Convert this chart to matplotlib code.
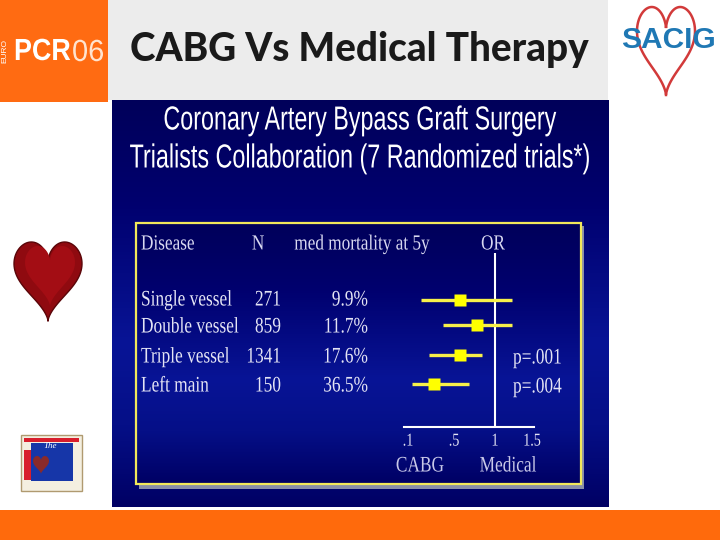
import numpy as np
import matplotlib
matplotlib.use("Agg")
import matplotlib.pyplot as plt
from matplotlib.patches import Rectangle, Polygon
from matplotlib.patheffects import AbstractPathEffect
from matplotlib.text import Text
from matplotlib.transforms import Affine2D, Bbox

diseases = ["Single vessel", "Double vessel", "Triple vessel", "Left main"]
n_patients = ["271", "859", "1341", "150"]
mortality = ["9.9%", "11.7%", "17.6%", "36.5%"]
odds_ratio = [0.57, 0.78, 0.57, 0.33]
ci_low = [0.21, 0.40, 0.28, 0.135]
ci_high = [1.23, 1.23, 0.84, 0.68]
p_values = ["", "", "p=.001", "p=.004"]
tick_values = [0.1, 0.5, 1, 1.5]
tick_labels = [".1", ".5", "1", "1.5"]

SANS = "Liberation Sans"
SERIF = "Liberation Serif"
PALE = "#e4e4f4"


class Condense(AbstractPathEffect):
    """Squeeze text horizontally about a display x, as the reference type is condensed."""
    def __init__(self, sx, cx):
        super().__init__()
        self.sx, self.cx = sx, cx

    def draw_path(self, renderer, gc, tpath, affine, rgbFace=None):
        squeeze = Affine2D().translate(-self.cx, 0).scale(self.sx, 1).translate(self.cx, 0)
        renderer.draw_path(gc, tpath, affine + squeeze, rgbFace)


def condense(text, sx, cx):
    """Apply the squeeze and report the extent that is really drawn."""
    text.set_path_effects([Condense(sx, cx)])

    def extent(renderer=None, dpi=None):
        b = Text.get_window_extent(text, renderer, dpi)
        return Bbox.from_extents(cx + (b.x0 - cx) * sx, b.y0, cx + (b.x1 - cx) * sx, b.y1)

    text.get_window_extent = extent
    return text


fig = plt.figure(figsize=(7.2, 5.4), dpi=100, facecolor="white")
bg = fig.add_axes([0, 0, 1, 1])


def put(x, y, s, sx=0.78, **kw):
    # figure is 720 px wide, so data x is display x
    return condense(bg.text(x, y, s, **kw), sx, x)


def reset_view():
    bg.set_xlim(0, 720); bg.set_ylim(540, 0)


reset_view(); bg.axis("off")

# page furniture
bg.add_patch(Rectangle((0, 0), 108, 102, fc="#ff6b12", ec="none"))
bg.add_patch(Rectangle((108, 0), 500, 100, fc="#ececec", ec="none"))
bg.add_patch(Rectangle((0, 510), 720, 30, fc="#ff6a0c", ec="none"))
bg.text(130, 50, "CABG Vs Medical Therapy", fontsize=27.8, family="Lato", weight="black",
        color="#1a1a1a", va="center", ha="left")

# panel gradient
stops_y = [0, 0.25, 0.6, 0.8, 1]
stops_c = np.array([[0, 0, 90], [0, 0, 110], [8, 20, 150], [5, 15, 135], [0, 0, 100]]) / 255
t = np.linspace(0, 1, 256)
grad = np.stack([np.interp(t, stops_y, stops_c[:, i]) for i in range(3)], axis=1)[:, None, :]
bg.imshow(grad, extent=(112, 609, 507, 100), aspect="auto", zorder=1)
reset_view()

sub = dict(fontsize=24, family=SANS, color="white", ha="center", va="center", zorder=3)
put(360, 121, "Coronary Artery Bypass Graft Surgery", sx=0.70, **sub)
put(360, 159, "Trialists Collaboration (7 Randomized trials*)", sx=0.70, **sub)

# inner box
bg.add_patch(Rectangle((139, 226), 445, 263, fc="#8a8fa8", ec="none", zorder=2))
bg.imshow(grad, extent=(136, 581, 484, 223), aspect="auto", zorder=2.5)
reset_view()
bg.add_patch(Rectangle((136, 223), 445, 261, fc="none", ec="#f2e85a", lw=1.6, zorder=3))

# table
row_y = [301, 328, 358, 387]
hdr = dict(family=SERIF, fontsize=15.5, color="#d8d8f0", va="center", zorder=4)
put(141, 245, "Disease", sx=0.8, ha="left", **hdr)
put(258, 245, "N", sx=0.8, ha="center", **hdr)
put(362, 245, "med mortality at 5y", sx=0.8, ha="center", **hdr)
put(493, 245, "OR", sx=0.8, ha="center", **hdr)
cell = dict(family=SERIF, fontsize=16, color=PALE, va="center", zorder=4)
for y, d, n, m, p in zip(row_y, diseases, n_patients, mortality, p_values):
    put(141, y, d, ha="left", **cell)
    put(281, y, n, ha="right", **cell)
    put(368, y, m, ha="right", **cell)
    if p:
        put(513, y + 1, p, ha="left", **cell)
foot = dict(family=SERIF, fontsize=16, color="#c8c8e8", ha="center", va="center", zorder=4)
put(420, 467, "CABG", **foot)
put(508, 467, "Medical", **foot)

# forest plot on its own axes, nonlinear printed scale
OR_ANCHOR = [0.0, 0.1, 0.5, 1.0, 1.5, 2.0]
POS_ANCHOR = [397.0, 408.0, 454.0, 495.0, 532.0, 569.0]
L, R, T, B = 404, 534, 253, 427
ax = fig.add_axes([L / 720, 1 - B / 540, (R - L) / 720, (B - T) / 540], facecolor="none", zorder=5)
ax.set_xscale("function", functions=(lambda v: np.interp(v, OR_ANCHOR, POS_ANCHOR),
                                     lambda v: np.interp(v, POS_ANCHOR, OR_ANCHOR)))
ax.set_xlim(np.interp(L, POS_ANCHOR, OR_ANCHOR), np.interp(R, POS_ANCHOR, OR_ANCHOR))
ax.set_ylim(B, T)
for s in ("top", "left", "right"):
    ax.spines[s].set_visible(False)
ax.spines["bottom"].set_color("white"); ax.spines["bottom"].set_linewidth(1.5)
ax.set_yticks([])
ax.set_xticks(tick_values)
ax.set_xticklabels(tick_labels, family=SERIF, fontsize=13, color=PALE)
ax.minorticks_off()
ax.tick_params(axis="x", length=0, pad=4)
for v, lab in zip(tick_values, ax.get_xticklabels()):
    condense(lab, 0.78, float(np.interp(v, OR_ANCHOR, POS_ANCHOR)))
ax.axvline(1, color="white", lw=1.5)
forest_y = [300, 325, 355, 384]
ax.hlines(forest_y, ci_low, ci_high, color="#f7f04a", lw=2.4)
ax.plot(odds_ratio, forest_y, "s", color="#ffff00", ms=8, mec="none", linestyle="none")

# EuroPCR logo
bg.text(5, 51, "EURO", color="white", fontsize=6, family=SANS, rotation=90, ha="center", va="center")
put(14, 52, "PCR", sx=0.88, color="white", fontsize=22, family=SANS, weight="bold", ha="left", va="center")
put(72, 53, "06", sx=0.95, color="#ffe3cf", fontsize=22, family=SANS, ha="left", va="center")


# hearts
def heart(cx, cy, w, h, n=160):
    a = np.linspace(0, 2 * np.pi, n)
    x = np.sin(a) ** 3
    y = 13 * np.cos(a) - 5 * np.cos(2 * a) - 2 * np.cos(3 * a) - np.cos(4 * a)
    y = (y - y.min()) / (y.max() - y.min()) - 0.5
    return np.column_stack([cx + x * w / 2, cy - y * h])


bg.add_patch(Polygon(heart(48, 281.5, 68, 79), closed=True, fc="#8f0a10", ec="#5a0508", lw=1))
bg.add_patch(Polygon(heart(50, 276, 50, 60), closed=True, fc="#a30d14", ec="none"))
bg.add_patch(Polygon(heart(666, 51, 58, 88), closed=True, fc="none", ec="#d23a3a", lw=1.8))
bg.text(668, 40, "SACIG", color="#1f78b4", fontsize=21.5, weight="bold", family=SANS,
        ha="center", va="center", zorder=4)

# small club logo
bg.add_patch(Rectangle((21, 435), 61, 56, fc="#f4efe0", ec="#b09a70", lw=1))
bg.add_patch(Rectangle((24, 438), 55, 4, fc="#d81e2c", ec="none"))
bg.add_patch(Rectangle((31, 443), 42, 38, fc="#1636a8", ec="none"))
bg.add_patch(Rectangle((24, 450), 7, 30, fc="#d81e2c", ec="none"))
bg.text(50, 446, "The", color="white", fontsize=6.5, family=SERIF, style="italic", ha="center", va="center")
bg.add_patch(Polygon(heart(41, 465, 16, 18), closed=True, fc="#8a2a2a", ec="none"))

fig.savefig("out.png", dpi=100, facecolor="white")
